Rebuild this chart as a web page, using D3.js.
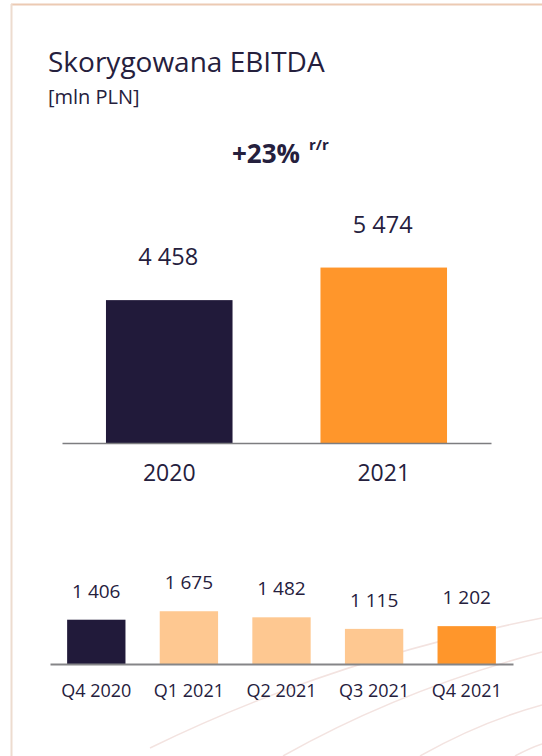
<!DOCTYPE html>
<html>
<head>
<meta charset="utf-8">
<script src="https://cdn.jsdelivr.net/npm/d3@7"></script>
<style>
  html, body { margin: 0; padding: 0; background: #ffffff; }
  svg { display: block; }
  text { font-family: "Open Sans", "Noto Sans", sans-serif; fill: #25203d; }
</style>
</head>
<body>
<svg id="chart" width="542" height="756"></svg>
<script>
// Annual adjusted EBITDA [mln PLN]
const years = ["2020", "2021"];
const yearValues = [4458, 5474];
const yearLabels = ["4 458", "5 474"];

// Quarterly adjusted EBITDA [mln PLN]
const quarters = ["Q4 2020", "Q1 2021", "Q2 2021", "Q3 2021", "Q4 2021"];
const quarterValues = [1406, 1675, 1482, 1115, 1202];
const quarterLabels = ["1 406", "1 675", "1 482", "1 115", "1 202"];

const title = "Skorygowana EBITDA";
const unit = "[mln PLN]";
const growth = "+23%";
const growthSuffix = "r/r";

const navy = "#211a3a";
const orange = "#ff962b";
const lightOrange = "#fec891";
const yearColors = [navy, orange];
const quarterColors = [navy, lightOrange, lightOrange, lightOrange, orange];
const font = "'Open Sans', 'Noto Sans', sans-serif";

const svg = d3.select("#chart");

// decorative faint swooshes in the lower right corner
const deco = svg.append("g").attr("fill", "none").attr("stroke", "#f3e3e0").attr("stroke-width", 1.5);
deco.append("path").attr("d", "M150,748 Q330,660 542,618");
deco.append("path").attr("d", "M283,756 Q400,690 542,652");
deco.append("path").attr("d", "M420,756 Q480,722 542,705");
deco.append("path").attr("d", "M515,756 Q530,748 542,744");

// frame lines
svg.append("line").attr("x1", 11).attr("x2", 542).attr("y1", 4.5).attr("y2", 4.5)
  .attr("stroke", "#eccab3").attr("stroke-width", 2);
svg.append("line").attr("x1", 11.5).attr("x2", 11.5).attr("y1", 4).attr("y2", 756)
  .attr("stroke", "#eddccf").attr("stroke-width", 2);

// header
svg.append("text").attr("x", 48).attr("y", 72).attr("font-size", 28).text(title);
svg.append("text").attr("x", 48).attr("y", 104).attr("font-size", 20).text(unit);

const g = svg.append("text").attr("x", 232).attr("y", 163).attr("font-weight", 700);
g.append("tspan").attr("font-size", 26).text(growth);
g.append("tspan").attr("font-size", 15).attr("dx", 9).attr("dy", -13).text(growthSuffix);

// ---- annual bars ----
const xTop = d3.scaleBand().domain(years).range([62, 491]).paddingInner(0.41).paddingOuter(0.205);
const yTop = d3.scaleLinear().domain([0, 6000]).range([443, 443 - 6000 * 0.03205]);

const topG = svg.append("g");
topG.selectAll("rect").data(years).join("rect")
  .attr("x", d => xTop(d))
  .attr("width", xTop.bandwidth())
  .attr("y", (d, i) => yTop(yearValues[i]))
  .attr("height", (d, i) => yTop(0) - yTop(yearValues[i]))
  .attr("fill", (d, i) => yearColors[i]);

topG.selectAll("text.val").data(years).join("text")
  .attr("class", "val")
  .attr("x", d => xTop(d) + xTop.bandwidth() / 2 - 1)
  .attr("y", (d, i) => yTop(yearValues[i]) - 35)
  .attr("text-anchor", "middle").attr("font-size", 23.5)
  .text((d, i) => yearLabels[i]);

const axTop = svg.append("g").attr("transform", `translate(0,${yTop(0)})`)
  .call(d3.axisBottom(xTop).tickSize(0).tickPadding(22));
axTop.select(".domain").attr("stroke", "#7d7d80").attr("stroke-width", 1.5);
axTop.selectAll(".tick text").attr("font-size", 23).attr("fill", "#25203d")
  .attr("font-family", font).attr("dy", "0.71em");

// ---- quarterly bars ----
const xBot = d3.scaleBand().domain(quarters).range([50, 513]).paddingInner(0.37).paddingOuter(0.185);
const yBot = d3.scaleLinear().domain([0, 2000]).range([664, 664 - 2000 * 0.0315]);

const botG = svg.append("g");
botG.selectAll("rect").data(quarters).join("rect")
  .attr("x", d => xBot(d))
  .attr("width", xBot.bandwidth())
  .attr("y", (d, i) => yBot(quarterValues[i]))
  .attr("height", (d, i) => yBot(0) - yBot(quarterValues[i]))
  .attr("fill", (d, i) => quarterColors[i]);

botG.selectAll("text.val").data(quarters).join("text")
  .attr("class", "val")
  .attr("x", d => xBot(d) + xBot.bandwidth() / 2)
  .attr("y", (d, i) => yBot(quarterValues[i]) - 22)
  .attr("text-anchor", "middle").attr("font-size", 19)
  .text((d, i) => quarterLabels[i]);

const axBot = svg.append("g").attr("transform", `translate(0,${yBot(0)})`)
  .call(d3.axisBottom(xBot).tickSize(0).tickPadding(20));
axBot.select(".domain").attr("stroke", "#858588").attr("stroke-width", 2);
axBot.selectAll(".tick text").attr("font-size", 18).attr("fill", "#25203d")
  .attr("font-family", font).attr("dy", "0.71em");
</script>
</body>
</html>
